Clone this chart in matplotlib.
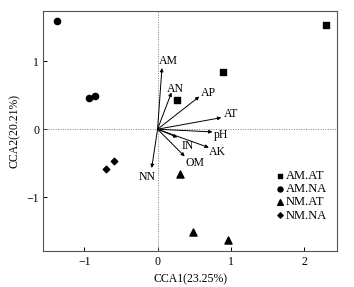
import matplotlib
matplotlib.use("Agg")
import matplotlib.pyplot as plt

# sample scores (CCA1, CCA2)
am_at_x = [2.30, 0.90, 0.26]
am_at_y = [1.53, 0.84, 0.43]
am_na_x = [-1.37, -0.94, -0.86]
am_na_y = [1.59, 0.46, 0.49]
nm_at_x = [0.31, 0.48, 0.96]
nm_at_y = [-0.66, -1.52, -1.63]
nm_na_x = [-0.70, -0.60]
nm_na_y = [-0.58, -0.47]

# environmental vectors
env_names = ["AM", "AN", "AP", "AT", "pH", "AK", "IN", "OM", "NN"]
env_x = [0.06, 0.19, 0.57, 0.87, 0.75, 0.70, 0.27, 0.37, -0.08]
env_y = [0.90, 0.54, 0.48, 0.17, -0.04, -0.27, -0.12, -0.40, -0.57]
lab_x = [0.15, 0.24, 0.69, 1.00, 0.86, 0.82, 0.41, 0.51, -0.14]
lab_y = [1.00, 0.59, 0.53, 0.22, -0.09, -0.34, -0.24, -0.50, -0.70]

plt.rcParams['font.family'] = ['Liberation Serif', 'DejaVu Serif']
plt.rcParams['font.size'] = 8.5

fig = plt.figure(figsize=(3.54, 2.87), dpi=100)
ax = fig.add_axes([0.1223, 0.1237, 0.952 - 0.1223, 0.9617 - 0.1237])

ax.axhline(0, color='gray', lw=0.7, ls=(0, (1, 1.5)))
ax.axvline(0, color='gray', lw=0.7, ls=(0, (1, 1.5)))

for i in range(len(env_names)):
    ax.annotate("", xy=(env_x[i], env_y[i]), xytext=(0, 0),
                arrowprops=dict(arrowstyle='-|>', lw=0.7, color='black',
                                mutation_scale=5, shrinkA=0, shrinkB=0))
    ax.text(lab_x[i], lab_y[i], env_names[i], ha='center', va='center', fontsize=8.5)

ax.scatter(am_at_x, am_at_y, marker='s', s=20, color='black', label='AM.AT')
ax.scatter(am_na_x, am_na_y, marker='o', s=20, color='black', label='AM.NA')
ax.scatter(nm_at_x, nm_at_y, marker='^', s=26, color='black', label='NM.AT')
ax.scatter(nm_na_x, nm_na_y, marker='D', s=11, color='black', label='NM.NA')

ax.set_xlim(-1.56, 2.45)
ax.set_ylim(-1.80, 1.74)
ax.set_xticks([-1, 0, 1, 2])
ax.set_yticks([-1, 0, 1])
ax.set_xticklabels(['\u22121', '0', '1', '2'])
ax.set_yticklabels(['\u22121', '0', '1'])
ax.tick_params(direction='in', length=3, width=0.7, labelsize=8.5, pad=3)
for sp in ax.spines.values():
    sp.set_linewidth(0.8)
    sp.set_color('#555555')

ax.set_xlabel('CCA1(23.25%)', fontsize=8.5, labelpad=4)
ax.set_ylabel('CCA2(20.21%)', fontsize=8.5, labelpad=4)

ax.legend(loc='upper left', bbox_to_anchor=(0.765, 0.365), frameon=False,
          handletextpad=0.0, handlelength=0.9, labelspacing=0.1,
          borderpad=0, fontsize=9, markerscale=0.8)

fig.savefig("out.png", dpi=100)
